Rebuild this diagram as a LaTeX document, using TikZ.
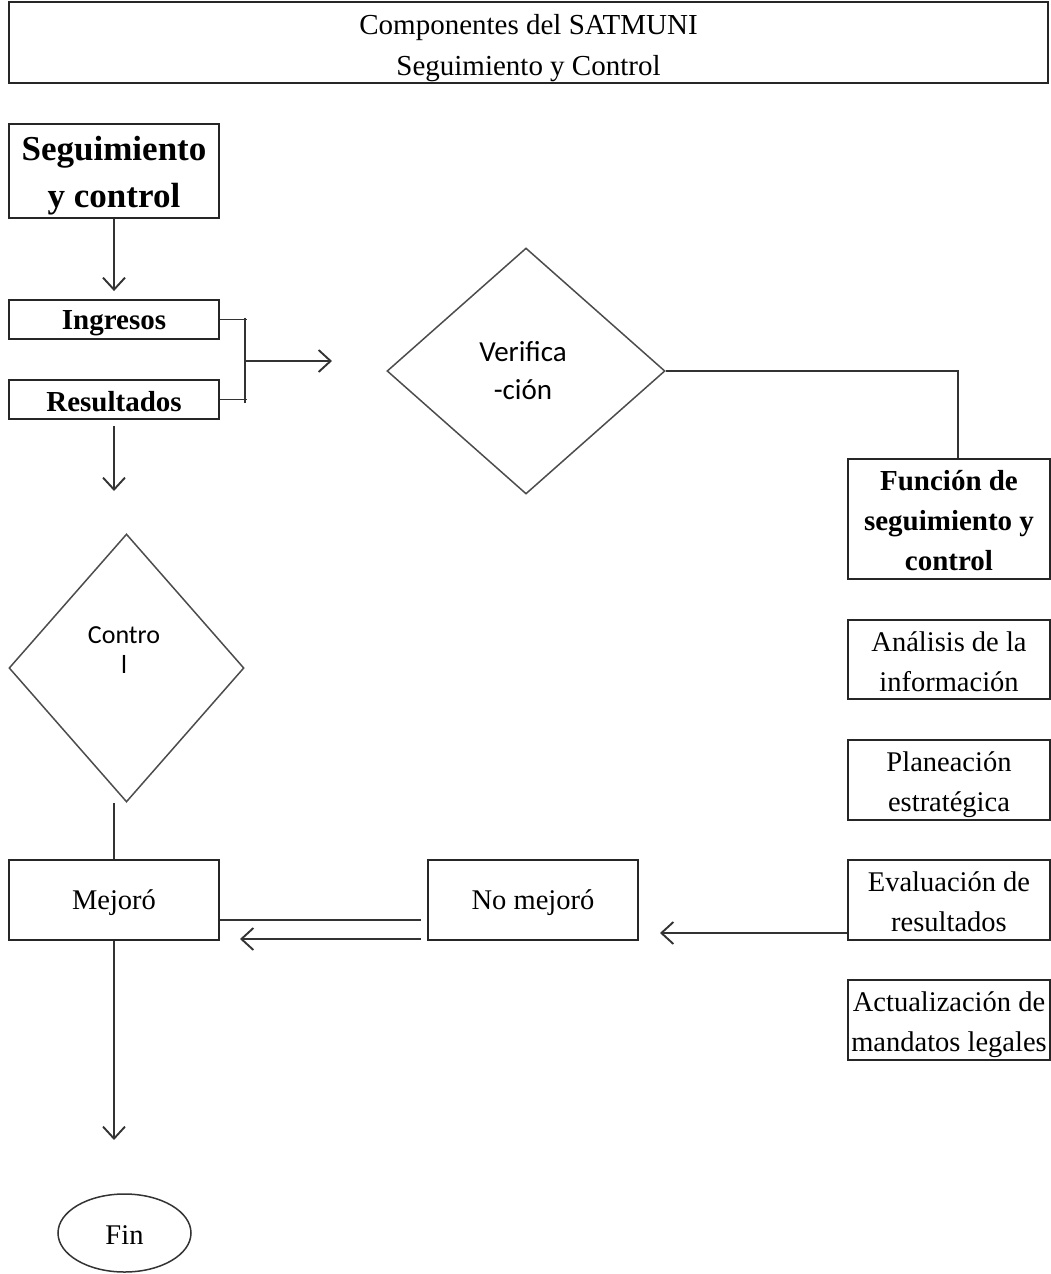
\documentclass[tikz,border=0pt]{standalone}
\usepackage{fontspec}
\setmainfont{Liberation Serif}
\newfontfamily\calib{Carlito}
\usetikzlibrary{shapes.geometric,arrows.meta}
% \bxnode{name}{x}{y}{width}{height}{text style}{text shift}{text}
\newcommand\bxnode[8]{%
  \node[box, minimum width=#4, minimum height=#5] (#1) at (#2,#3) {};
  \node[#6, align=center, inner sep=0pt] (#1-t) at ([yshift=-#7]#1.center) {#8};
}
\begin{document}
\begin{tikzpicture}[x=1pt,y=-1pt,
  line width=1.9pt,
  conn/.style={draw=black!80},
  box/.style={draw=black!85, rectangle, inner sep=0pt},
  dia/.style={draw=black!70, diamond, inner sep=0pt, line width=1.5pt},
  reg/.style={font=\fontsize{28.5}{40}\selectfont},
  bld/.style={font=\fontsize{29}{40}\selectfont\bfseries},
  ttl/.style={font=\fontsize{29}{41}\selectfont},
  big/.style={font=\fontsize{35}{47}\selectfont\bfseries},
  arr/.style={conn, -{Straight Barb[length=12pt,width=22pt]}},
]
\useasboundingbox (0,0) rectangle (1051,1274);

% title
\bxnode{title}{528.5}{42.5}{1039pt}{81pt}{ttl}{5.5pt}{Componentes del SATMUNI\\Seguimiento y Control}

% left column
\bxnode{seg}{114}{171}{210pt}{94pt}{big}{5pt}{Seguimiento\\y control}
\bxnode{ing}{114}{319.5}{210pt}{39pt}{bld}{4pt}{Ingresos}
\bxnode{res}{114}{399.5}{210pt}{39pt}{bld}{2pt}{Resultados}

% verification diamond
\node[dia, minimum width=278pt, minimum height=246pt] (ver) at (526,371) {};
\node[font=\calib\fontsize{29}{38}\selectfont, align=center, inner sep=0pt] (vertxt) at (523,371) {Verifica\\-ción};

% control diamond
\node[dia, minimum width=235pt, minimum height=268pt] (ctl) at (126.5,668) {};
\node[font=\calib\fontsize{26}{30}\selectfont, align=center, inner sep=0pt] (ctltxt) at (124,650) {Contro\\l};

% right column
\bxnode{fun}{949}{519}{202pt}{120pt}{bld}{2pt}{Función de\\seguimiento y\\control}
\bxnode{ana}{949}{659.5}{202pt}{79pt}{reg}{2pt}{Análisis de la\\información}
\bxnode{pla}{949}{780}{202pt}{80pt}{reg}{5pt}{Planeación\\estratégica}
\bxnode{eva}{949}{900}{202pt}{80pt}{reg}{2pt}{Evaluación de\\resultados}
\bxnode{act}{949}{1020}{202pt}{80pt}{reg}{5pt}{Actualización de\\mandatos legales}

% bottom row
\bxnode{mej}{114}{900}{210pt}{80pt}{reg}{3pt}{Mejoró}
\bxnode{nom}{533}{900}{210pt}{80pt}{reg}{3pt}{No mejoró}

% end
\node[draw=black!80, ellipse, inner sep=0pt, minimum width=133pt, minimum height=78pt,
      line width=1.5pt] (fin) at (124.5,1233) {};
\node[reg, inner sep=0pt] (fin-t) at ([yshift=-2pt]fin.center) {Fin};

% connectors
\draw[arr] (seg.south) -- ([yshift=8pt]ing.north);

\coordinate (br) at (245,361);
\coordinate (brend) at (332,361);
\draw[conn] (ing.east) -- ([xshift=2pt]ing.east -| br);
\draw[conn] (res.east) -- ([xshift=2pt]res.east -| br);
\draw[conn] ([yshift=2pt]ing.east -| br) -- ([yshift=-3pt]res.east -| br);
\draw[arr] (br) -- (brend);

\coordinate (vf) at (958,373);
\draw[conn] (ver.east) -- (ver.east -| vf) -- (vf |- fun.north);

\coordinate (evaend) at (660,933);
\draw[arr] ([yshift=-33pt]eva.west) -- (evaend);

\draw[conn] (mej.north) -- (mej.north |- ctl.south);

\draw[conn] ([xshift=-6pt,yshift=-20pt]nom.west) -- ([yshift=-20pt]mej.east);
\coordinate (mejarr) at (240,939);
\draw[arr] ([xshift=-6pt,yshift=-39pt]nom.west) -- (mejarr);

\coordinate (finarr) at (114,1140);
\draw[arr] (mej.south) -- (finarr);
\coordinate (resarr) at (114,491);
\draw[arr] ([yshift=-6pt]res.south) -- (resarr);
\end{tikzpicture}
\end{document}
